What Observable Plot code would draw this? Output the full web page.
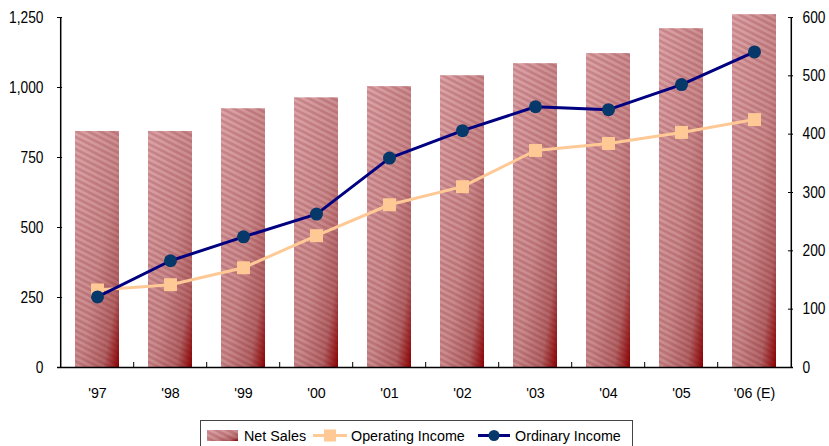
<!DOCTYPE html>
<html>
<head>
<meta charset="utf-8">
<script src="https://cdn.jsdelivr.net/npm/d3@7"></script>
<script src="https://cdn.jsdelivr.net/npm/@observablehq/plot@0.6"></script>
<style>
  html, body { margin: 0; padding: 0; background: #fff; }
  #wrap { position: relative; width: 829px; height: 446px; overflow: hidden; font-family: "Liberation Sans", Arial, sans-serif; }
  #legend { position: absolute; left: 200px; top: 420px; width: 433px; height: 30px; border: 1px solid #444; box-sizing: border-box; background: #fff; }
</style>
</head>
<body>
<div id="wrap">
  <div id="chart"></div>
  <div id="legend"></div>
</div>
<script>
// ---- data ----
const years = ["'97", "'98", "'99", "'00", "'01", "'02", "'03", "'04", "'05", "'06 (E)"];
const netSales = [843, 843, 924, 963, 1003, 1042, 1085, 1121, 1210, 1260];
const operatingIncome = [133, 142, 171, 226, 279, 310, 372, 384, 403, 425];
const ordinaryIncome = [121, 183, 224, 263, 359, 406, 447, 442, 485, 541];
const leftTicks = [0, 250, 500, 750, 1000, 1250];
const rightTicks = [0, 100, 200, 300, 400, 500, 600];

// ---- layout ----
const W = 829, H = 412;
const mL = 57, mR = 36, mT = 17, mB = 45;
const plotW = W - mL - mR, plotH = H - mT - mB;
const step = plotW / years.length;
const ratio = 1250 / 600;
const font = '"Liberation Sans", Arial, sans-serif';
const yFont = 16, xFont = 15;

const rows = years.map((y, i) => ({year: y, sales: netSales[i], op: operatingIncome[i], ord: ordinaryIncome[i]}));

const opColor = "#ffc996";
const ordLine = "#000080";
const ordDot = "#06386a";

const chart = Plot.plot({
  width: W, height: H,
  marginLeft: mL, marginRight: mR, marginTop: mT, marginBottom: mB,
  style: {fontFamily: font, fontSize: "16px", color: "#000", background: "#fff", overflow: "visible"},
  x: {domain: years, paddingInner: 0.4, paddingOuter: 0.2, axis: null},
  y: {domain: [0, 1250], axis: null},
  marks: [
    Plot.barY(rows, {x: "year", y: "sales", fill: "url(#barGrad)"}),
    Plot.barY(rows, {x: "year", y: "sales", fill: "url(#hatch)"}),
    // axis lines
    Plot.ruleX([years[0]], {dx: -step / 2, stroke: "#000", strokeWidth: 1.5}),
    Plot.ruleX([years[years.length - 1]], {dx: step / 2, stroke: "#000", strokeWidth: 1.5}),
    Plot.ruleY([0], {stroke: "#000", strokeWidth: 1.5}),
    // tick marks
    Plot.ruleY(leftTicks, {y: d => d, insetRight: plotW - 5, stroke: "#000"}),
    Plot.ruleY(rightTicks, {y: d => d * ratio, insetLeft: plotW - 5, stroke: "#000"}),
    Plot.ruleX(years.slice(1), {x: d => d, dx: -step / 2, insetTop: plotH - 5, stroke: "#000"}),
    // tick labels
    Plot.text(leftTicks, {y: d => d, text: d => d3.format(",")(d), frameAnchor: "left", textAnchor: "end", dx: -14, fontSize: yFont, fill: "#000"}),
    Plot.text(rightTicks, {y: d => d * ratio, text: d => String(d), frameAnchor: "right", textAnchor: "start", dx: 9, fontSize: yFont, fill: "#000"}),
    Plot.text(years, {x: d => d, text: d => d, frameAnchor: "bottom", lineAnchor: "middle", dy: 26, fontSize: xFont, fill: "#000"}),
    // lines
    Plot.line(rows, {x: "year", y: d => d.op * ratio, stroke: opColor, strokeWidth: 3}),
    Plot.dot(rows, {x: "year", y: d => d.op * ratio, symbol: "square", r: 7.3, fill: opColor, stroke: "none"}),
    Plot.line(rows, {x: "year", y: d => d.ord * ratio, stroke: ordLine, strokeWidth: 3}),
    Plot.dot(rows, {x: "year", y: d => d.ord * ratio, r: 6.5, fill: ordDot, stroke: "none"})
  ]
});

d3.select(chart).insert("defs", ":first-child").html(`
  <linearGradient id="barGrad" x1="0" y1="0" x2="1" y2="1">
    <stop offset="0" stop-color="#dca4a8"/>
    <stop offset="0.55" stop-color="#c98a8c"/>
    <stop offset="0.82" stop-color="#b26466"/>
    <stop offset="1" stop-color="#8b0000"/>
  </linearGradient>
  <pattern id="hatch" patternUnits="userSpaceOnUse" width="8" height="5.4" patternTransform="rotate(27)">
    <rect width="8" height="2.7" fill="rgba(110,0,10,0.17)"/>
  </pattern>
`);
document.getElementById("chart").appendChild(chart);

// condense text horizontally (narrow face look) without touching positions
function condense(el, sx) {
  const L = el.getComputedTextLength();
  if (L > 0) {
    el.setAttribute("textLength", (L * sx).toFixed(2));
    el.setAttribute("lengthAdjust", "spacingAndGlyphs");
  }
}
d3.select(chart).selectAll("text").each(function() {
  const g = this.closest("[font-size]");
  const fs = g ? parseFloat(g.getAttribute("font-size")) : 16;
  condense(this, fs === yFont ? 0.86 : 0.95);
});

// ---- legend ----
const leg = d3.select("#legend").append("svg").attr("width", 431).attr("height", 28)
  .style("display", "block").style("font-family", font).style("font-size", "15.4px");
leg.append("rect").attr("x", 6).attr("y", 9).attr("width", 31).attr("height", 11).attr("fill", "url(#barGrad)");
leg.append("rect").attr("x", 6).attr("y", 9).attr("width", 31).attr("height", 11).attr("fill", "url(#hatch)");
leg.append("line").attr("x1", 112).attr("x2", 146).attr("y1", 14.5).attr("y2", 14.5).attr("stroke", opColor).attr("stroke-width", 3);
leg.append("rect").attr("x", 123).attr("y", 8.5).attr("width", 12).attr("height", 12).attr("fill", opColor);
leg.append("line").attr("x1", 277).attr("x2", 309).attr("y1", 14.5).attr("y2", 14.5).attr("stroke", ordLine).attr("stroke-width", 3);
leg.append("circle").attr("cx", 293).attr("cy", 14.5).attr("r", 5.5).attr("fill", ordDot);
[["Net Sales", 43], ["Operating Income", 150], ["Ordinary Income", 314]].forEach(([label, x]) => {
  const t = leg.append("text").attr("x", x).attr("y", 15).attr("dy", "0.35em").text(label);
  condense(t.node(), 0.93);
});
</script>
</body>
</html>
